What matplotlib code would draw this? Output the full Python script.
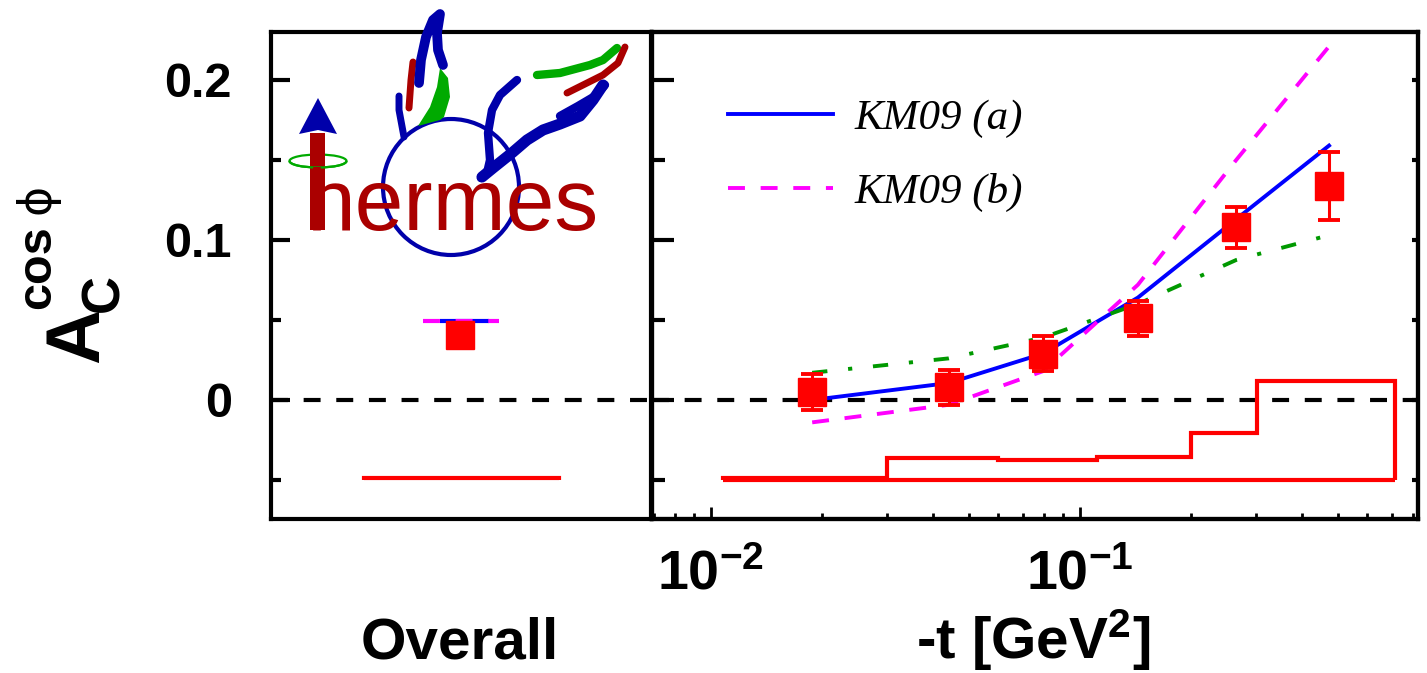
import numpy as np
import matplotlib
matplotlib.use("Agg")
import matplotlib.pyplot as plt
from matplotlib.patches import Circle, Ellipse, Arc, Polygon, Rectangle
from matplotlib.ticker import FixedLocator, FixedFormatter, LogLocator, NullFormatter

plt.rcParams['font.family'] = ['Liberation Sans', 'DejaVu Sans']
plt.rcParams['mathtext.fontset'] = 'custom'
plt.rcParams['mathtext.rm'] = 'Liberation Sans:bold'
plt.rcParams['mathtext.bf'] = 'Liberation Sans:bold'
plt.rcParams['mathtext.it'] = 'Liberation Sans:bold'
plt.rcParams['lines.scale_dashes'] = False

# -t dependence (GeV^2) of A_C^{cos phi}
t_mean = [0.0188, 0.0441, 0.0794, 0.1435, 0.265, 0.473]
a_c = [0.005, 0.008, 0.029, 0.051, 0.108, 0.134]
a_c_err = [0.0115, 0.011, 0.011, 0.011, 0.0128, 0.0213]

# model curves evaluated at the same -t values
km09a = [0.000, 0.0106, 0.029, 0.064, 0.113, 0.159]
km09b = [-0.014, -0.003, 0.018, 0.072, 0.150, 0.221]
model_c = [0.017, 0.026, 0.039, 0.060, 0.0875, 0.103]

# systematic uncertainty band
sys_edges = [0.0108, 0.030, 0.060, 0.111, 0.200, 0.302, 0.714]
sys_top = [-0.0485, -0.0363, -0.0375, -0.0358, -0.0206, 0.012]
sys_base = -0.05

# overall (integrated) value
overall_val = 0.0406
overall_err = 0.005
overall_km09a = 0.0495
overall_km09b = 0.0495
overall_sys_top = -0.0485

legend_labels = ['KM09 (a)', 'KM09 (b)']
ytick_vals = [0.0, 0.1, 0.2]
ytick_labels = ['0', '0.1', '0.2']
xtick_vals = [0.01, 0.1]
xtick_labels = [r'$10^{-2}$', r'$10^{-1}$']

W, H = 1427, 673
fig = plt.figure(figsize=(W / 100, H / 100), dpi=100)

ylo, yhi = -0.0744, 0.230
ax1 = fig.add_axes([271 / W, 1 - 519 / H, 380 / W, 487 / H])
ax2 = fig.add_axes([652 / W, 1 - 519 / H, 766 / W, 487 / H])

dash_zero = (0, (12.2, 11.3))
dash_b = (0, (12.2, 11.3))
dash_c = (0, (11, 15, 3, 15))

# ---- left panel: overall
ax1.set_xlim(0, 1)
ax1.set_ylim(ylo, yhi)
ax1.axhline(0, color='k', lw=3, linestyle=dash_zero, zorder=1)
ax1.stairs([overall_sys_top], [0.245, 0.758], baseline=sys_base, fill=False,
           color='red', lw=3, zorder=2)
ax1.hlines(overall_km09a, 0.445, 0.574, color='blue', lw=3, zorder=3)
ax1.hlines(overall_km09b, 0.40, 0.60, color='magenta', lw=3,
           linestyle=dash_b, zorder=3)
ax1.errorbar([0.497], [overall_val], yerr=[overall_err], fmt='s', color='red',
             ms=19.5, elinewidth=2.2, capsize=8, capthick=2.8, zorder=5)
ax1.set_xticks([])
ax1.yaxis.set_major_locator(FixedLocator(ytick_vals))
ax1.yaxis.set_major_formatter(FixedFormatter(ytick_labels))
ax1.yaxis.set_minor_locator(FixedLocator([-0.05, 0.05, 0.15]))
ax1.tick_params(axis='y', which='major', direction='in', length=14, width=3,
                labelsize=35, pad=28)
ax1.tick_params(axis='y', which='minor', direction='in', length=7, width=3)
for lab in ax1.get_yticklabels():
    lab.set_fontweight('bold')
ax1.text(0.497, -0.287, 'Overall', transform=ax1.transAxes, ha='center',
         va='baseline', fontsize=42, fontweight='bold')

# ---- right panel: -t dependence
ax2.set_xscale('log')
ax2.set_xlim(0.00692, 0.824)
ax2.set_ylim(ylo, yhi)
ax2.axhline(0, color='k', lw=3, linestyle=dash_zero, zorder=1)
ax2.stairs(sys_top, sys_edges, baseline=sys_base, fill=False, color='red',
           lw=3, zorder=2)
ax2.hlines(sys_base, sys_edges[0], sys_edges[-1], color='red', lw=3, zorder=2)
la, = ax2.plot(t_mean, km09a, color='blue', lw=2.8, zorder=3)
lb, = ax2.plot(t_mean, km09b, color='magenta', lw=2.8, linestyle=dash_b,
               zorder=3)
ax2.plot(t_mean, model_c, color='#009900', lw=2.8, linestyle=dash_c, zorder=3)
ax2.errorbar(t_mean, a_c, yerr=a_c_err, fmt='s', color='red', ms=19.5,
             elinewidth=2.2, capsize=8, capthick=2.8, zorder=5)

ax2.xaxis.set_major_locator(FixedLocator(xtick_vals))
ax2.xaxis.set_major_formatter(FixedFormatter(xtick_labels))
ax2.xaxis.set_minor_locator(LogLocator(base=10, subs=np.arange(2, 10), numticks=20))
ax2.xaxis.set_minor_formatter(NullFormatter())
ax2.tick_params(axis='x', which='major', direction='in', length=9, width=2,
                labelsize=40, pad=22, top=False)
ax2.tick_params(axis='x', which='minor', direction='in', length=4.5, width=2,
                top=False)
ax2.yaxis.set_major_locator(FixedLocator(ytick_vals))
ax2.yaxis.set_minor_locator(FixedLocator([-0.05, 0.05, 0.15]))
ax2.tick_params(axis='y', which='major', direction='in', length=16, width=3,
                labelleft=False)
ax2.tick_params(axis='y', which='minor', direction='in', length=9, width=3)
ax2.text(0.497, -0.287, '-t [GeV$^{2}$]', transform=ax2.transAxes, ha='center',
         va='baseline', fontsize=42, fontweight='bold')

# short ticks on the right edge
axr = ax2.twinx()
axr.set_ylim(ylo, yhi)
axr.yaxis.set_major_locator(FixedLocator(ytick_vals))
axr.yaxis.set_minor_locator(FixedLocator([-0.05, 0.05, 0.15]))
axr.tick_params(axis='y', which='both', direction='in', length=4.5, width=3,
                labelright=False)

ax2.legend([la, lb], legend_labels, loc='upper left', bbox_to_anchor=(0.099, 0.862),
           frameon=False, borderaxespad=0, borderpad=0, handlelength=2.45,
           handletextpad=0.5, labelspacing=0.8,
           prop=dict(family='Liberation Serif', style='italic', size=31))

for ax in (ax1, ax2, axr):
    for sp in ax.spines.values():
        sp.set_linewidth(3)

# ---- overlay in pixel coordinates: axis title and logo
ov = fig.add_axes([0, 0, 1, 1], zorder=10)
ov.set_xlim(0, W)
ov.set_ylim(H, 0)
ov.axis('off')
ov.patch.set_alpha(0)

ov.text(98, 363, 'A', rotation=90, rotation_mode='anchor', ha='left',
        va='baseline', fontsize=55, fontweight='bold')
ov.text(118, 312, 'C', rotation=90, rotation_mode='anchor', ha='left',
        va='baseline', fontsize=38, fontweight='bold')
ov.text(50, 309, 'cos', rotation=90, rotation_mode='anchor', ha='left',
        va='baseline', fontsize=35, fontweight='bold')
ov.text(50, 214, '\u03d5', rotation=90, rotation_mode='anchor', ha='left',
        va='baseline', fontsize=33, family=['DejaVu Sans'])

lblue, lred, lgreen = '#0000AA', '#AA0000', '#00AA00'
ov.add_patch(Circle((451, 187), 68, fill=False, ec=lblue, lw=3))
ov.add_patch(Ellipse((318, 161), 57, 13, fill=False, ec=lgreen, lw=1.6))
ov.text(307, 230, 'hermes', color=lred, fontsize=63, ha='left',
        va='baseline', family='Liberation Sans')
ov.add_patch(Rectangle((310, 133), 15, 97, color=lred, lw=0))
ov.add_patch(Arc((318, 161), 57, 13, theta1=0, theta2=180, ec=lgreen, lw=1.6))
ov.add_patch(Polygon([(299, 134), (318, 98), (337, 134), (318, 130)],
                     closed=True, color=lblue, lw=0))
# wings
ov.plot([404, 399, 399], [137, 110, 96], color=lblue, lw=5, solid_capstyle='round')
ov.plot([413, 411, 409], [62, 80, 108], color=lred, lw=5, solid_capstyle='round')
ov.plot([419, 421, 426, 433, 440, 437, 438, 443], [83, 60, 37, 20, 14, 33, 50, 65],
        color=lblue, lw=7, solid_capstyle='round')
ov.add_patch(Polygon([(418, 126), (430, 107), (437, 87), (440, 68), (448, 78),
                      (450, 97), (444, 117), (440, 120)], closed=True,
                     color=lgreen, lw=0))
ov.plot([517, 500, 492, 488, 490, 487, 481], [80, 95, 110, 133, 160, 173, 178],
        color=lblue, lw=6, solid_capstyle='round')
ov.plot([482, 493, 513, 527, 543, 560, 580, 593, 603],
        [177, 168, 152, 140, 130, 124, 116, 100, 85],
        color=lblue, lw=8, solid_capstyle='round')
ov.plot([560, 578, 595, 605], [116, 106, 96, 85], color=lblue, lw=6,
        solid_capstyle='round')
ov.plot([537, 560, 590, 603, 617], [75, 73, 65, 60, 48], color=lgreen, lw=6,
        solid_capstyle='round')
ov.plot([567, 583, 603, 618, 625], [93, 85, 75, 63, 47], color=lred, lw=5,
        solid_capstyle='round')

fig.savefig('out.png', dpi=100)
